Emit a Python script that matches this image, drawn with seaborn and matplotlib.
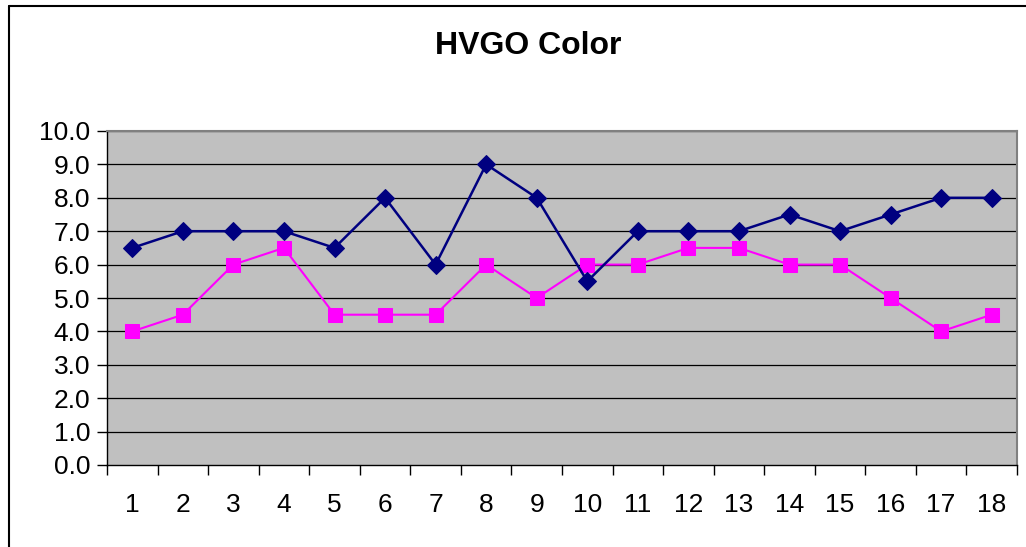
import matplotlib
matplotlib.use("Agg")
import matplotlib.pyplot as plt
import numpy as np
import pandas as pd
import seaborn as sns
from matplotlib.lines import Line2D

# chart data
categories = [str(i) for i in range(1, 19)]
series_navy = [6.5, 7.0, 7.0, 7.0, 6.5, 8.0, 6.0, 9.0, 8.0, 5.5, 7.0, 7.0, 7.0, 7.5, 7.0, 7.5, 8.0, 8.0]
series_pink = [4.0, 4.5, 6.0, 6.5, 4.5, 4.5, 4.5, 6.0, 5.0, 6.0, 6.0, 6.5, 6.5, 6.0, 6.0, 5.0, 4.0, 4.5]
y_ticks = [0.0, 1.0, 2.0, 3.0, 4.0, 5.0, 6.0, 7.0, 8.0, 9.0, 10.0]
title = "HVGO Color"

sns.set_style("white", {"text.color": "black", "xtick.color": "black", "ytick.color": "black"})
plt.rcParams["font.family"] = ["Liberation Sans", "DejaVu Sans"]

W, H = 1026, 547
fig = plt.figure(figsize=(W / 100, H / 100), dpi=100)
ax = fig.add_axes([107 / W, 1 - 465 / H, (1017 - 107) / W, (465 - 131) / H])
ax.set_facecolor("#C0C0C0")

pos = np.arange(len(categories))
df = pd.DataFrame({"pos": pos, "navy": series_navy, "pink": series_pink})

sns.lineplot(data=df, x="pos", y="navy", ax=ax, color="#000080", linewidth=1.8,
             marker="D", markersize=9, markeredgecolor="#000080", sort=False, zorder=4)
sns.lineplot(data=df, x="pos", y="pink", ax=ax, color="#FF00FF", linewidth=1.5,
             marker="s", markersize=9.5, markeredgecolor="#FF00FF", sort=False, zorder=3)

ax.set_xlim(-0.5, len(categories) - 0.5)
ax.set_ylim(0, 10)
ax.set_xlabel("")
ax.set_ylabel("")

# horizontal gridlines
for v in y_ticks[1:]:
    ax.axhline(v, color="black", linewidth=0.9, zorder=1)

ax.set_yticks(y_ticks)
ax.set_yticklabels([f"{v:.1f}" for v in y_ticks], fontsize=19, color="black")
ax.set_xticks(np.arange(len(categories) + 1) - 0.5)
ax.set_xticklabels([])
ax.set_xticks(pos, minor=True)
ax.set_xticklabels(categories, minor=True, fontsize=19, color="black")
ax.tick_params(axis="x", which="major", bottom=True, direction="out", length=7, width=1, color="black")
ax.tick_params(axis="x", which="minor", bottom=True, length=0, pad=20)
ax.tick_params(axis="y", left=True, direction="out", length=7, width=1, color="black", pad=5)

for side in ["top", "right"]:
    ax.spines[side].set_color("#808080")
    ax.spines[side].set_linewidth(1.5)
for side in ["left", "bottom"]:
    ax.spines[side].set_color("black")
    ax.spines[side].set_linewidth(1.0)

fig.text(528 / W, 1 - 46 / H, title, ha="center", va="center",
         fontsize=23, fontweight="bold", color="black")

# chart-area border (only top and left visible)
fig.add_artist(Line2D([8.5 / W, 1.0], [1 - 5.5 / H, 1 - 5.5 / H], color="black", linewidth=1.5))
fig.add_artist(Line2D([8.5 / W, 8.5 / W], [0.0, 1 - 5.5 / H], color="black", linewidth=1.5))

fig.savefig("out.png", dpi=100)
